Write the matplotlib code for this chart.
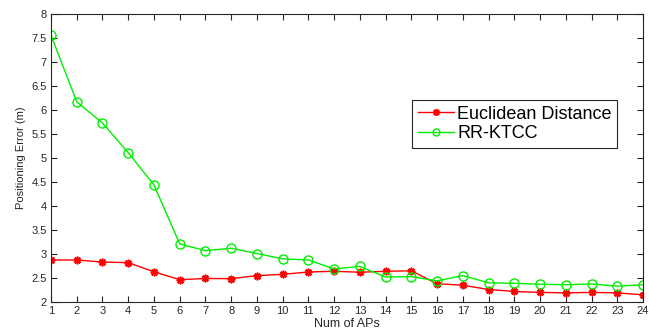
import matplotlib
matplotlib.use("Agg")
import matplotlib.pyplot as plt

plt.rcParams['font.family'] = ['Liberation Sans', 'DejaVu Sans']

num_aps = list(range(1, 25))
euclidean = [2.875, 2.875, 2.833, 2.82, 2.63, 2.465, 2.49, 2.486, 2.55, 2.576, 2.625, 2.64,
             2.62, 2.64, 2.65, 2.38, 2.35, 2.26, 2.22, 2.20, 2.19, 2.20, 2.19, 2.15]
rrktcc = [7.56, 6.17, 5.73, 5.11, 4.44, 3.21, 3.07, 3.12, 3.01, 2.90, 2.875, 2.69,
          2.74, 2.52, 2.53, 2.44, 2.55, 2.40, 2.39, 2.37, 2.36, 2.375, 2.33, 2.36]
xticks = list(range(1, 25))
yticks = [2, 2.5, 3, 3.5, 4, 4.5, 5, 5.5, 6, 6.5, 7, 7.5, 8]
ytick_labels = ['2', '2.5', '3', '3.5', '4', '4.5', '5', '5.5', '6', '6.5', '7', '7.5', '8']

fig = plt.figure(figsize=(6.49, 3.36), dpi=100)
ax = fig.add_axes([51/649, 34/336, 592/649, 288/336])

ax.plot(num_aps, euclidean, color='#ff0000', lw=1.0, marker=(8, 2, 0), markersize=5.5,
        markeredgewidth=1.2, label='Euclidean Distance')
ax.plot(num_aps, rrktcc, color='#00ee00', lw=1.0, marker='o', markersize=6.5,
        markerfacecolor='none', markeredgewidth=1.0, label='RR-KTCC')

ax.set_xlim(1, 24)
ax.set_ylim(2, 8)
ax.set_xticks(xticks)
ax.set_yticks(yticks)
ax.set_yticklabels(ytick_labels)
ax.tick_params(direction='in', top=True, right=True, length=4, width=0.8,
               labelsize=8, colors='#262626', labelcolor='#262626', pad=3)
for s in ax.spines.values():
    s.set_linewidth(0.8)
    s.set_color('#262626')

ax.set_xlabel('Num of APs', fontsize=9, color='#262626', labelpad=1.5)
ax.set_ylabel('Positioning Error (m)', fontsize=8, color='#262626', labelpad=4)

leg = ax.legend(loc='upper left', bbox_to_anchor=(0.61, 0.701), fontsize=13,
                frameon=True, fancybox=False, edgecolor='#262626', framealpha=1,
                handlelength=2.0, handletextpad=0.2, borderpad=0.3, labelspacing=0.15,
                borderaxespad=0)
leg.get_frame().set_linewidth(0.8)
for h in leg.legend_handles:
    h.set_markersize(5)

fig.savefig('out.png', dpi=100)
